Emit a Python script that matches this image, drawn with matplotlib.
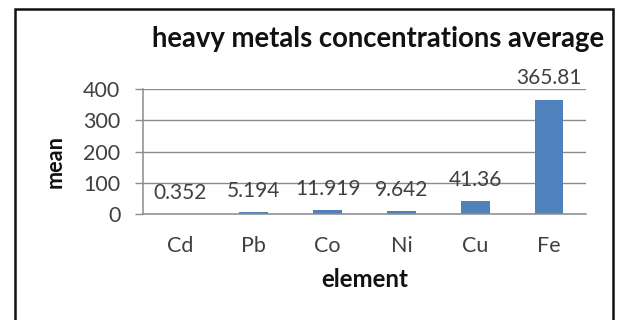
import matplotlib
matplotlib.use("Agg")
import matplotlib.pyplot as plt
from matplotlib.patches import Rectangle

categories = ["Cd", "Pb", "Co", "Ni", "Cu", "Fe"]
values = [0.352, 5.194, 11.919, 9.642, 41.36, 365.81]
value_labels = ["0.352", "5.194", "11.919", "9.642", "41.36", "365.81"]
yticks = [0, 100, 200, 300, 400]

plt.rcParams['font.family'] = ['Lato', 'DejaVu Sans']

W, H = 618, 320
fig = plt.figure(figsize=(W / 100, H / 100), dpi=100)
fig.patch.set_facecolor('white')

# outer frame
fig.patches.append(Rectangle((15 / W, -0.05), (613 - 15) / W, 1.05 - 9 / H,
                             transform=fig.transFigure, fill=False,
                             edgecolor='#111111', linewidth=1.8, clip_on=False))

ax = fig.add_axes([143 / W, 1 - 214 / H, (586 - 143) / W, (214 - 89) / H])
x = list(range(len(categories)))
ax.bar(x, values, width=0.39, color='#4F81BD', linewidth=0, zorder=2)
ax.set_xlim(-0.5, len(categories) - 0.5)
ax.set_ylim(0, 400)
ax.set_yticks(yticks)
ax.set_yticklabels([str(t) for t in yticks])
ax.set_xticks(x)
ax.set_xticklabels(categories)

ax.grid(axis='y', color='#8c8c8c', linewidth=1.0, zorder=0)
for s in ['top', 'right']:
    ax.spines[s].set_visible(False)
for s in ['left', 'bottom']:
    ax.spines[s].set_color('#8c8c8c')
    ax.spines[s].set_linewidth(1.1)
    ax.spines[s].set_zorder(2.5)

TICK_FS = 15.5
LAB_FS = 15.0
ax.tick_params(axis='y', length=5.8, width=1.0, color='#8c8c8c', pad=10.5,
               labelsize=TICK_FS, labelcolor='#404040')
ax.tick_params(axis='x', length=0, pad=16.0, labelsize=TICK_FS, labelcolor='#404040')

anns = []
for i, (v, lab) in enumerate(zip(values, value_labels)):
    a = ax.annotate(lab, xy=(i, v), xytext=(0, 11.0), textcoords='offset points',
                    ha='center', va='baseline', fontsize=LAB_FS, color='#404040',
                    annotation_clip=False)
    anns.append(a)

title = fig.text(378.5 / W, 1 - 47 / H, "heavy metals concentrations average", ha='center',
                 va='baseline', fontsize=19, fontweight='bold', color='#111111')
ylab = fig.text(55 / W, 1 - 161.5 / H, "mean", rotation=90, ha='center', va='center',
                fontsize=16, fontweight='bold', color='#111111')
xlab = fig.text(364.5 / W, 1 - 287 / H, "element", ha='center', va='baseline',
                fontsize=16, fontweight='bold', color='#111111')

# fit text sizes to the reference pixel extents
fig.canvas.draw()
r = fig.canvas.get_renderer()
def fit(t, target, use_height=False):
    for _ in range(3):
        bb = t.get_window_extent(r)
        cur = bb.height if use_height else bb.width
        if cur > 0:
            t.set_fontsize(t.get_fontsize() * target / cur)
fit(title, 452)
fit(xlab, 87)
fit(ylab, 53, use_height=True)
fit(anns[0], 53)
s = anns[0].get_fontsize()
for a in anns:
    a.set_fontsize(s)

fig.savefig("out.png", dpi=100)
